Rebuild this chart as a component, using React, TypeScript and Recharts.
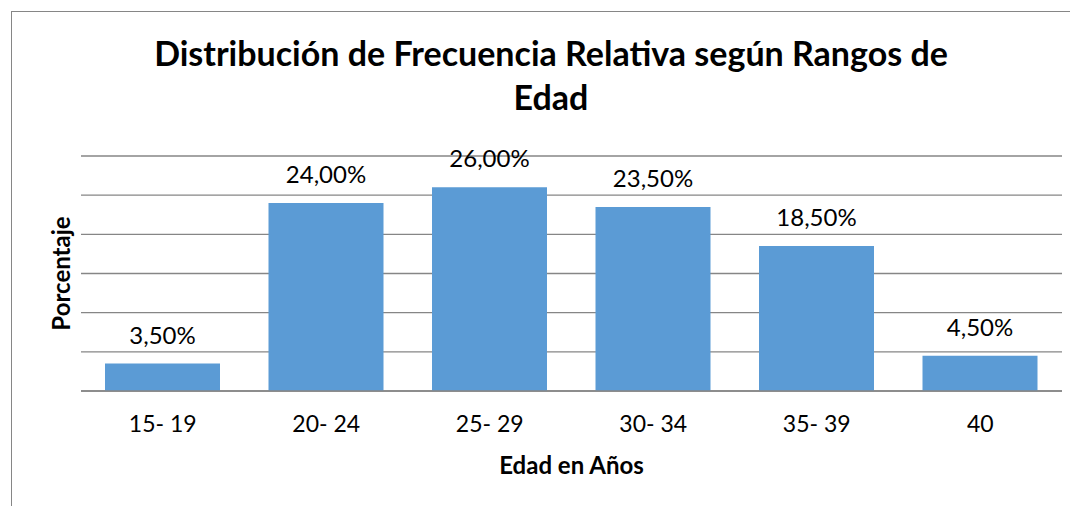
import React from 'react';
import { BarChart, Bar, XAxis, YAxis, CartesianGrid, LabelList } from 'recharts';

const categories = ['15- 19', '20- 24', '25- 29', '30- 34', '35- 39', '40'];
const percentages = [3.5, 24.0, 26.0, 23.5, 18.5, 4.5];
const yTicks = [0, 5, 10, 15, 20, 25, 30];

const data = categories.map((c, i) => ({ name: c, value: percentages[i] }));

const FONT = 'Lato, "Open Sans", sans-serif';
const GRID = '#868686';

const fmt = (v: any) => `${Number(v).toFixed(2).replace('.', ',')}%`;

export default function App() {
  return (
    <div style={{ position: 'relative', width: 1070, height: 498, fontFamily: FONT }}>
      <BarChart
        width={1070}
        height={498}
        data={data}
        margin={{ top: 148, right: 16, left: 73, bottom: 55 }}
        barSize={115}
      >
        <CartesianGrid vertical={false} stroke={GRID} strokeWidth={1.3} />
        <YAxis hide domain={[0, 30]} ticks={yTicks} />
        <XAxis
          dataKey="name"
          height={60}
          axisLine={{ stroke: GRID, strokeWidth: 1.3 }}
          tickLine={false}
          tickMargin={19}
          tick={{ fill: '#000', fontSize: 23, fontFamily: FONT }}
          interval={0}
        />
        <Bar dataKey="value" fill="#5B9BD5" isAnimationActive={false}>
          <LabelList
            dataKey="value"
            position="top"
            offset={20}
            formatter={fmt}
            style={{ fill: '#000', fontSize: 24, fontFamily: FONT }}
          />
        </Bar>
      </BarChart>
      <svg
        width={1070}
        height={498}
        style={{ position: 'absolute', left: 0, top: 0, pointerEvents: 'none' }}
      >
        <line x1={3} y1={3.5} x2={1070} y2={3.5} stroke={GRID} strokeWidth={1} />
        <line x1={3.5} y1={3} x2={3.5} y2={498} stroke={GRID} strokeWidth={1} />
        <text x={543} y={58} textAnchor="middle" fontSize={34} fontWeight="bold" fontFamily={FONT} fill="#000">
          Distribución de Frecuencia Relativa según Rangos de
        </text>
        <text x={543} y={102} textAnchor="middle" fontSize={34} fontWeight="bold" fontFamily={FONT} fill="#000">
          Edad
        </text>
        <text
          x={0}
          y={0}
          transform="translate(62,265.5) rotate(-90)"
          textAnchor="middle"
          fontSize={24}
          fontWeight="bold"
          fontFamily={FONT}
          fill="#000"
        >
          Porcentaje
        </text>
        <text x={563.5} y={466} textAnchor="middle" fontSize={24} fontWeight="bold" fontFamily={FONT} fill="#000">
          Edad en Años
        </text>
      </svg>
    </div>
  );
}
